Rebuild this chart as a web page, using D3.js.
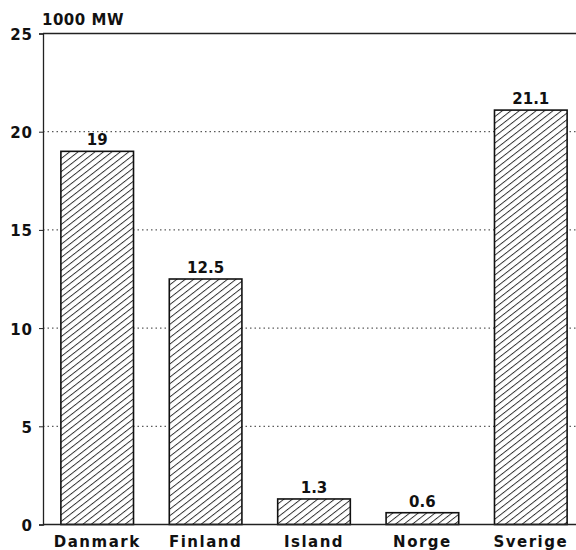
<!DOCTYPE html>
<html lang="en">
<meta charset="utf-8">
<head>
  <style>
    body { margin: 0; background: #fff; }
    text { font-family: "DejaVu Sans", sans-serif; font-weight: bold; fill: #111; }
  </style>
  <title></title>
</head>
<body>
<script src="https://d3js.org/d3.v7.min.js"></script>
<script>

  const countries = ["Danmark", "Finland", "Island", "Norge", "Sverige"];
  const values = [19, 12.5, 1.3, 0.6, 21.1];
  const valueLabels = ["19", "12.5", "1.3", "0.6", "21.1"];
  const yTicks = [0, 5, 10, 15, 20, 25];
  const unitLabel = "1000 MW";

  const margin = {top: 33.5, right: 0, bottom: 25.5, left: 43},
        width = 576 - margin.left - margin.right,
        height = 550 - margin.top - margin.bottom;

  const svg = d3.select("body").append("svg")
      .attr("width", 576)
      .attr("height", 550);

  // hatch pattern for the bars
  const pat = svg.append("defs").append("pattern")
      .attr("id", "hatch")
      .attr("patternUnits", "userSpaceOnUse")
      .attr("width", 5.2)
      .attr("height", 5.2)
      .attr("patternTransform", "rotate(-38)");
  pat.append("rect").attr("width", 5.2).attr("height", 5.2).attr("fill", "#fff");
  pat.append("line")
      .attr("x1", 0).attr("y1", 0.5).attr("x2", 5.2).attr("y2", 0.5)
      .attr("stroke", "#222").attr("stroke-width", 0.9);

  const g = svg.append("g")
      .attr("transform", "translate(" + margin.left + "," + margin.top + ")");

  const x = d3.scaleBand()
      .domain(countries)
      .range([0, 542])
      .paddingInner(0.33)
      .paddingOuter(0.165);

  const y = d3.scaleLinear().domain([0, 25]).range([height, 0]);

  // gridlines
  g.selectAll(".grid")
      .data(yTicks.filter(d => d > 0 && d < 25))
      .enter().append("line")
      .attr("x1", 0).attr("x2", width)
      .attr("y1", d => y(d)).attr("y2", d => y(d))
      .attr("stroke", "#333")
      .attr("stroke-width", 1)
      .attr("stroke-dasharray", "1.5,3");

  // top line
  g.append("line")
      .attr("x1", 0).attr("x2", width)
      .attr("y1", y(25)).attr("y2", y(25))
      .attr("stroke", "#222").attr("stroke-width", 1.3);

  // bars
  g.selectAll(".bar")
      .data(values)
      .enter().append("rect")
      .attr("x", (d, i) => x(countries[i]))
      .attr("width", x.bandwidth())
      .attr("y", d => y(d))
      .attr("height", d => height - y(d))
      .attr("fill", "url(#hatch)")
      .attr("stroke", "#111")
      .attr("stroke-width", 1.6);

  // value labels
  g.selectAll(".vlab")
      .data(values)
      .enter().append("text")
      .attr("x", (d, i) => x(countries[i]) + x.bandwidth() / 2)
      .attr("y", d => y(d) - 6)
      .attr("text-anchor", "middle")
      .style("font-size", "15px")
      .text((d, i) => valueLabels[i]);

  // left axis
  const yAxis = d3.axisLeft(y).tickValues(yTicks).tickSize(4).tickPadding(6);
  const ya = g.append("g").call(yAxis);
  ya.select(".domain").attr("stroke", "#222").attr("stroke-width", 1.3);
  ya.selectAll("line").attr("stroke", "#222");
  ya.selectAll("text")
      .style("font-size", "15px")
      .style("font-family", "'DejaVu Sans', sans-serif")
      .style("font-weight", "bold")
      .style("letter-spacing", "1px")
      .attr("fill", "#111")
      .attr("dy", "0.4em");

  // bottom axis
  const xAxis = d3.axisBottom(x).tickSize(0);
  const xa = g.append("g")
      .attr("transform", "translate(0," + height + ")")
      .call(xAxis);
  xa.select(".domain").attr("stroke", "#222").attr("stroke-width", 1.6).attr("d", "M0,0H" + width);
  xa.selectAll("text")
      .style("font-size", "15px")
      .style("font-family", "'DejaVu Sans', sans-serif")
      .style("font-weight", "bold")
      .style("letter-spacing", "1.5px")
      .attr("fill", "#111")
      .attr("y", 22.5)
      .attr("dy", 0);

  // unit label
  svg.append("text")
      .attr("x", 42)
      .attr("y", 25)
      .style("font-size", "15px")
      .style("letter-spacing", "0.5px")
      .text(unitLabel);

</script>
</body>
</html>
